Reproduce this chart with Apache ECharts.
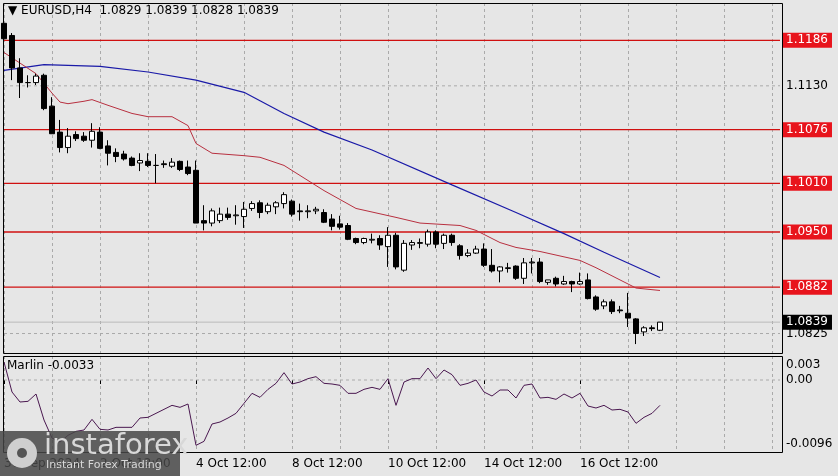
<!DOCTYPE html>
<html><head><meta charset="utf-8">
<script src="https://cdn.jsdelivr.net/npm/echarts@6/dist/echarts.min.js"></script>
<style>html,body{margin:0;padding:0;background:#e6e6e6}#c{width:838px;height:476px}</style>
</head><body><div id="c"></div>
<script>
const openP  = [1.1207,1.1192,1.1152,1.1134,1.1134,1.1143,1.1105,1.1073,1.1054,1.1070,1.1068,1.1063,1.1073,1.1056,1.1048,1.1046,1.1041,1.1035,1.1037,1.1032,1.1034,1.1031,1.1037,1.1030,1.1026,1.0964,1.0961,1.0964,1.0972,1.0970,1.0969,1.0979,1.0986,1.0975,1.0981,1.0985,1.0988,1.0976,1.0975,1.0976,1.0974,1.0966,1.0960,1.0958,1.0942,1.0937,1.0940,1.0942,1.0932,1.0946,1.0903,1.0934,1.0936,1.0935,1.0950,1.0936,1.0946,1.0933,1.0921,1.0924,1.0929,1.0909,1.0902,1.0905,1.0908,1.0893,1.0912,1.0913,1.0888,1.0893,1.0886,1.0889,1.0886,1.0891,1.0870,1.0859,1.0864,1.0854,1.0850,1.0843,1.0827,1.0832,1.0829];
const highP  = [1.1210,1.1195,1.1164,1.1143,1.1145,1.1145,1.1116,1.1088,1.1078,1.1074,1.1073,1.1084,1.1079,1.1063,1.1053,1.1050,1.1043,1.1047,1.1047,1.1046,1.1038,1.1041,1.1038,1.1038,1.1038,1.0983,1.0979,1.0980,1.0980,1.0983,1.0987,1.0988,1.0989,1.0986,1.0988,1.0999,1.0990,1.0985,1.0983,1.0981,1.0978,1.0972,1.0970,1.0961,1.0943,1.0943,1.0948,1.0946,1.0956,1.0949,1.0940,1.0940,1.0942,1.0953,1.0952,1.0948,1.0948,1.0935,1.0929,1.0933,1.0936,1.0929,1.0908,1.0912,1.0909,1.0918,1.0918,1.0918,1.0891,1.0895,1.0896,1.0890,1.0900,1.0899,1.0872,1.0867,1.0867,1.0859,1.0875,1.0844,1.0834,1.0835,1.0839];
const lowP   = [1.1186,1.1137,1.1115,1.1128,1.1131,1.1100,1.1071,1.1048,1.1047,1.1062,1.1061,1.1054,1.1052,1.1032,1.1036,1.1038,1.1031,1.1025,1.1030,1.1010,1.1029,1.1029,1.1025,1.1020,1.0961,1.0952,1.0957,1.0961,1.0965,1.0959,1.0955,1.0976,1.0967,1.0972,1.0972,1.0979,1.0969,1.0964,1.0967,1.0972,1.0961,1.0952,1.0953,1.0940,1.0935,1.0935,1.0936,1.0928,1.0907,1.0904,1.0901,1.0928,1.0930,1.0932,1.0930,1.0929,1.0933,1.0916,1.0919,1.0923,1.0907,1.0900,1.0888,1.0900,1.0891,1.0886,1.0899,1.0887,1.0885,1.0883,1.0885,1.0876,1.0885,1.0867,1.0853,1.0855,1.0849,1.0850,1.0833,1.0812,1.0822,1.0828,1.0828];
const closeP = [1.1188,1.1152,1.1134,1.1134,1.1142,1.1102,1.1071,1.1054,1.1068,1.1065,1.1063,1.1074,1.1053,1.1047,1.1043,1.1040,1.1032,1.1038,1.1032,1.1032,1.1033,1.1036,1.1027,1.1022,1.0961,1.0961,1.0976,1.0972,1.0968,1.0971,1.0978,1.0985,1.0974,1.0983,1.0986,1.0996,1.0972,1.0975,1.0976,1.0978,1.0962,1.0957,1.0956,1.0941,1.0937,1.0942,1.0941,1.0934,1.0946,1.0907,1.0936,1.0937,1.0937,1.0950,1.0935,1.0946,1.0937,1.0921,1.0924,1.0929,1.0909,1.0902,1.0907,1.0906,1.0893,1.0912,1.0913,1.0889,1.0891,1.0886,1.0889,1.0886,1.0889,1.0868,1.0855,1.0864,1.0852,1.0853,1.0844,1.0825,1.0832,1.0831,1.0839];
const maSlow = [[0,1.1149],[5,1.1156],[12,1.1154],[18,1.1147],[24,1.1137],[30,1.1122],[35,1.1096],[40,1.1073],[46,1.1051],[56,1.1008],[64,1.0974],[70,1.0948],[75,1.0925],[82,1.0894]];
const maFast = [[0,1.1171],[4,1.1145],[6,1.1121],[7,1.1110],[8,1.1108],[10,1.1111],[11,1.1113],[13,1.1106],[16,1.1096],[18,1.1092],[21,1.1092],[23,1.1081],[24,1.1059],[26,1.1047],[30,1.1044],[32,1.1042],[35,1.1032],[40,1.1001],[44,1.0979],[49,1.0968],[52,1.0961],[57,1.0958],[59,1.0952],[62,1.0937],[64,1.0931],[67,1.0926],[72,1.0915],[74,1.0906],[77,1.0891],[79,1.0881],[82,1.0878]];
const marlin = [0.0027,-0.0018,-0.0033,-0.0032,-0.0021,-0.0060,-0.0087,-0.0093,-0.0083,-0.0077,-0.0075,-0.0059,-0.0074,-0.0075,-0.0071,-0.0071,-0.0071,-0.0057,-0.0056,-0.0050,-0.0044,-0.0038,-0.0041,-0.0036,-0.0098,-0.0092,-0.0066,-0.0063,-0.0057,-0.0050,-0.0035,-0.0020,-0.0026,-0.0014,-0.0005,0.0011,-0.0006,-0.0003,0.0002,0.0005,-0.0005,-0.0006,-0.0008,-0.0020,-0.0020,-0.0014,-0.0011,-0.0014,0.0002,-0.0038,-0.0003,0.0002,0.0002,0.0018,0.0002,0.0015,0.0008,-0.0008,-0.0005,0.0000,-0.0018,-0.0024,-0.0015,-0.0015,-0.0027,-0.0008,-0.0006,-0.0027,-0.0026,-0.0029,-0.0021,-0.0027,-0.0020,-0.0039,-0.0042,-0.0038,-0.0045,-0.0044,-0.0048,-0.0065,-0.0056,-0.0050,-0.0038];
const redLevels = [1.1186,1.1076,1.1010,1.0950,1.0882];
const grayLevels = [1.1130,1.0825];
const lastPrice = 1.0839;
const marlinTicks = [[0.0022,'0.003'],[0,'0.00'],[-0.0096,'-0.0096']];
const tickLabels = {0:'30 Sep 2024',12:'2 Oct 12:00',24:'4 Oct 12:00',36:'8 Oct 12:00',48:'10 Oct 12:00',60:'14 Oct 12:00',72:'16 Oct 12:00'};
const N = 98;
const cats = Array.from({length:N},(_,i)=>String(i));
const candles = openP.map((o,i)=>[o,closeP[i],lowP[i],highP[i]]);
const F = 'DejaVu Sans';
const chart = echarts.init(document.getElementById('c'));
const xBase = {type:'category',data:cats,boundaryGap:false,axisLine:{show:false},
  axisTick:{show:false},splitLine:{show:true,interval:(i)=>i%6===0,lineStyle:{color:'#aaa',type:[3,3]}}};
function level(v,txt,ax,lineStyle,bg,fg,z){
  return {type:'line',xAxisIndex:ax,yAxisIndex:ax,data:[[0,v],[N-1,v]],showSymbol:false,silent:true,z:z,
    lineStyle:lineStyle,
    endLabel:{show:true,formatter:txt,color:fg,backgroundColor:bg,padding:[2,4,1,4],fontFamily:F,fontSize:12,distance:2}};
}
const clear = {color:'rgba(0,0,0,0)',width:0};
const levelSeries = [
  ...grayLevels.map(v=>level(v,v.toFixed(4),0,{color:'#aaa',type:[3,3],width:1},'transparent','#000',1)),
  level(lastPrice,lastPrice.toFixed(4),0,{color:'#bbb',width:1},'#000','#fff',3),
  ...redLevels.map(v=>level(v,v.toFixed(4),0,{color:'#d01010',width:1.3},'#e8141c','#fff',4)),
  ...marlinTicks.map(([v,t])=>level(v,t,1,v===0?{color:'#aaa',type:[3,3],width:1}:clear,'transparent','#000',1))
];
chart.setOption({
  backgroundColor:'#e6e6e6',animation:false,
  grid:[{left:4,right:58,top:3,height:350},{left:4,right:58,top:356,height:96}],
  xAxis:[Object.assign({gridIndex:0,axisLabel:{show:false}},xBase),
    Object.assign({gridIndex:1,axisLabel:{show:true,interval:0,formatter:(v,i)=>tickLabels[i]||'',align:'left',color:'#000',fontFamily:F,fontSize:12,margin:6}},xBase,
      {axisTick:{show:true,interval:(i)=>tickLabels[i]!==undefined,length:4,lineStyle:{color:'#000'}}})],
  yAxis:[{gridIndex:0,min:1.0801,max:1.1232,show:false,splitLine:{show:false}},
    {gridIndex:1,min:-0.0108,max:0.0036,show:false,splitLine:{show:false}}],
  series:[
    ...levelSeries,
    {type:'candlestick',data:candles,barWidth:5,xAxisIndex:0,yAxisIndex:0,z:6,
     itemStyle:{color:'#fff',color0:'#000',borderColor:'#000',borderColor0:'#000',borderWidth:1}},
    {type:'line',data:maSlow,xAxisIndex:0,yAxisIndex:0,showSymbol:false,z:5,lineStyle:{color:'#1a1aa8',width:1.2}},
    {type:'line',data:maFast,xAxisIndex:0,yAxisIndex:0,showSymbol:false,z:5,lineStyle:{color:'#b83040',width:1}},
    {type:'line',data:marlin,xAxisIndex:1,yAxisIndex:1,showSymbol:false,z:5,lineStyle:{color:'#4a1850',width:1}}
  ],
  graphic:[
    {type:'rect',shape:{x:3.5,y:3.5,width:779,height:350},style:{fill:'none',stroke:'#000',lineWidth:1},z:100},
    {type:'rect',shape:{x:3.5,y:356.5,width:779,height:96},style:{fill:'none',stroke:'#000',lineWidth:1},z:100},
    {type:'text',left:8,top:5,style:{text:'▼ EURUSD,H4  1.0829 1.0839 1.0828 1.0839',font:'12px "DejaVu Sans"',fill:'#000'},z:101},
    {type:'text',left:7,top:360,style:{text:'Marlin -0.0033',font:'12px "DejaVu Sans"',fill:'#000'},z:101},
    {type:'rect',shape:{x:0,y:431,width:180,height:45},style:{fill:'rgba(70,70,70,0.85)'},z:110},
    {type:'circle',shape:{cx:22,cy:453,r:15},style:{fill:'#cfcfcf'},z:111},
    {type:'circle',shape:{cx:22,cy:453,r:5},style:{fill:'#555'},z:112},
    {type:'text',left:44,top:432,style:{text:'instaforex',font:'29px "DejaVu Sans"',fill:'#d8d8d8'},z:111},
    {type:'text',left:46,top:460,style:{text:'Instant Forex Trading',font:'11px "DejaVu Sans"',fill:'#d8d8d8'},z:111}
  ]
});
</script></body></html>
